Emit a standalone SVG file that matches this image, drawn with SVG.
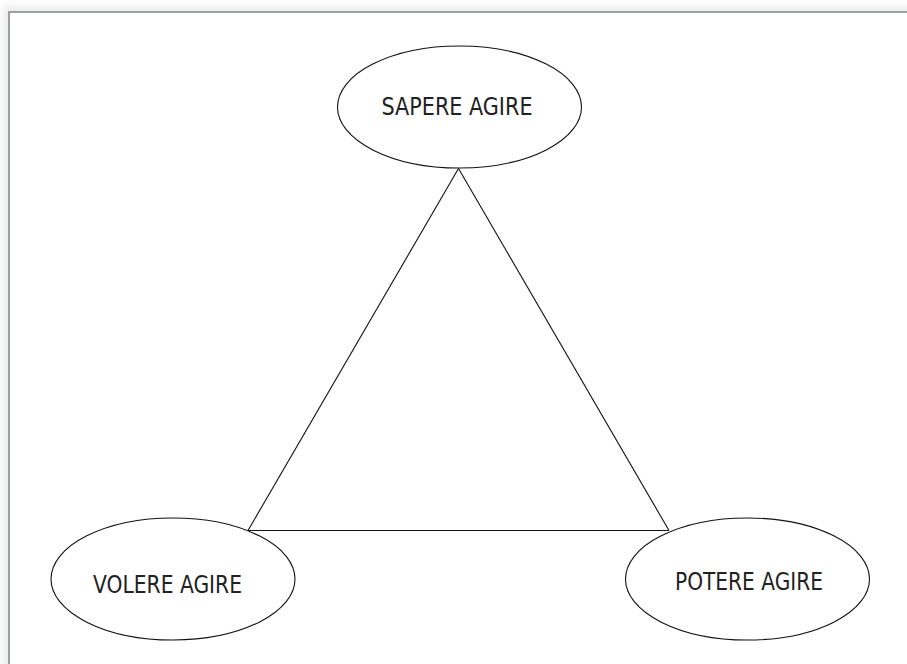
<svg xmlns="http://www.w3.org/2000/svg" width="907" height="664" viewBox="0 0 907 664">
  <defs>
    <filter id="frameShadow" x="-5%" y="-5%" width="110%" height="110%">
      <feGaussianBlur stdDeviation="4"/>
    </filter>
  </defs>
  <style>
    .node ellipse { fill: #ffffff; stroke: #111111; stroke-width: 1.1; }
    .node text { font-family: "DejaVu Sans Condensed", "Liberation Sans", sans-serif; font-size: 25.5px; fill: #222222; text-anchor: middle; }
    .edge { stroke: #111111; stroke-width: 1.1; fill: none; }
  </style>

  <!-- page background and frame -->
  <rect x="0" y="0" width="907" height="664" fill="#ffffff"/>
  <rect x="4" y="7" width="920" height="680" fill="#d8dadb" filter="url(#frameShadow)" opacity="0.6"/>
  <rect x="9" y="12" width="910" height="670" fill="#ffffff" stroke="#8a8a8e" stroke-width="1.6"/>

  <!-- connectors -->
  <g id="connectors">
    <line class="edge" x1="458.5" y1="168.5" x2="248" y2="530.5"/>
    <line class="edge" x1="458.5" y1="168.5" x2="669" y2="530.5"/>
    <line class="edge" x1="248" y1="530.5" x2="669" y2="530.5"/>
  </g>

  <g id="sapere" class="node">
    <ellipse cx="459.5" cy="107" rx="122" ry="61"/>
    <text x="457" y="115" textLength="151" lengthAdjust="spacingAndGlyphs">SAPERE AGIRE</text>
  </g>

  <g id="volere" class="node">
    <ellipse cx="173" cy="579" rx="122" ry="61"/>
    <text x="167.5" y="593" textLength="149" lengthAdjust="spacingAndGlyphs">VOLERE AGIRE</text>
  </g>

  <g id="potere" class="node">
    <ellipse cx="747.5" cy="579" rx="122" ry="61"/>
    <text x="749" y="590" textLength="148" lengthAdjust="spacingAndGlyphs">POTERE AGIRE</text>
  </g>
</svg>
